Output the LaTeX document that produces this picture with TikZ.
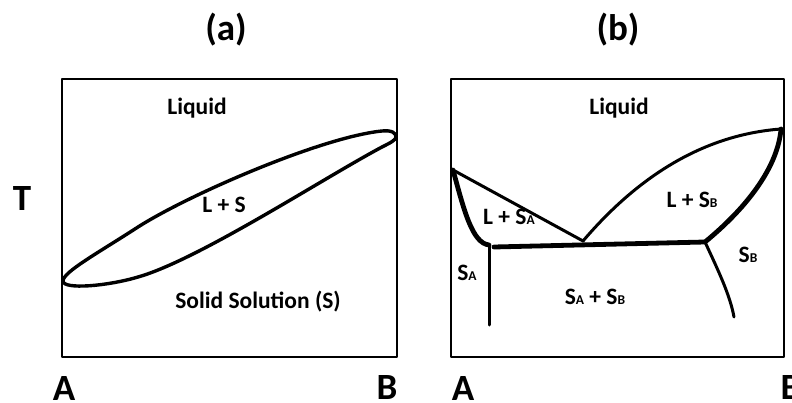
\documentclass[tikz,border=0pt]{standalone}
\usepackage{fontspec}
\setmainfont{Carlito}
\newcommand\mysub[1]{{\fontsize{13.5}{14}\selectfont #1}}
\begin{document}
\begin{tikzpicture}[x=1pt,y=-1pt,line join=round,line cap=round]
\tikzset{
  frame/.style={draw=black,line width=2.6pt,line cap=rect},
  phaseline/.style={draw=black,line width=3pt},
  boldline/.style={draw=black,line width=4.8pt},
  bigtext/.style={font=\fontsize{37}{40}\selectfont\bfseries,anchor=base,inner sep=0pt},
  lab/.style={font=\fontsize{23.5}{25}\selectfont\bfseries,anchor=base,inner sep=0pt},
}
\useasboundingbox (0,0) rectangle (792,403);
% titles and axis labels
\node[bigtext] (ta) at (226,41) {(a)};
\node[bigtext] (tb) at (618,41) {(b)};
\node[bigtext] (T) at (22,211) {T};
\node[bigtext] (Aa) at (64,400) {A};
\node[bigtext] (Ba) at (387,399) {B};
\node[bigtext] (Ab) at (463,400) {A};
\node[bigtext] (Bb) at (791,399) {B};
% panel (a)
\draw[frame] (62,79) rectangle (397,357);
\draw[line width=3.4pt] (63,281)
  .. controls (63,272) and (98,253) .. (138,227)
  .. controls (190,194) and (322,137) .. (382,131)
  .. controls (392,130) and (396,133) .. (396,137)
  .. controls (396,140) and (390,143) .. (382,147)
  .. controls (322,179) and (198,260) .. (138,277)
  .. controls (108,286) and (63,290) .. (63,281) -- cycle;
\node[lab] (liqa) at (197,115) {Liquid};
\node[lab] (lsa) at (224,213) {L + S};
\node[lab] (ssa) at (258,308) {Solid Solution (S)};
% panel (b)
\draw[frame] (451,79) rectangle (784,357);
\coordinate (LA) at (453,170);
\coordinate (E) at (583,241);
\coordinate (SA) at (489,245);
\coordinate (SAb) at (489,325);
\coordinate (EL) at (494,247);
\coordinate (ER) at (705,242);
\coordinate (LB) at (781,129);
\coordinate (SBb) at (734,317);
\draw[phaseline] (LA) -- (E);
\draw[boldline] (LA) .. controls (464,210) and (472,243) .. (SA);
\draw[phaseline] (SA) -- (SAb);
\draw[boldline] (EL) -- (ER);
\draw[phaseline] (E) .. controls (635,180) and (700,135) .. (LB);
\draw[boldline] (LB) .. controls (778,165) and (750,205) .. (ER);
\draw[phaseline] (ER) .. controls (718,270) and (730,295) .. (SBb);
\node[lab] (liqb) at (619,115) {Liquid};
\node[lab] (lsA) at (509,225) {L + S\mysub{A}};
\node[lab] (sA) at (467,280) {S\mysub{A}};
\node[lab] (sAB) at (595,305) {S\mysub{A} + S\mysub{B}};
\node[lab] (lsB) at (692,208) {L + S\mysub{B}};
\node[lab] (sB) at (748,263) {S\mysub{B}};
\end{tikzpicture}
\end{document}
